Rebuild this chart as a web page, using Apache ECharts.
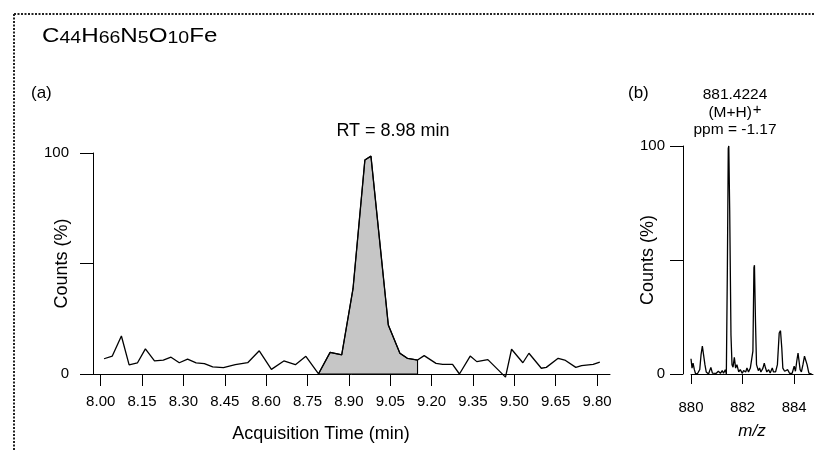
<!DOCTYPE html>
<html>
<head>
<meta charset="utf-8">
<script src="https://cdn.jsdelivr.net/npm/echarts@6/dist/echarts.min.js"></script>
<style>
html,body{margin:0;padding:0;background:#fff;}
#chart{width:814px;height:450px;}
</style>
</head>
<body>
<div id="chart"></div>
<script>
// Chromatogram (a): acquisition time (min) and counts (%)
var chromTime = [8.012, 8.042, 8.075, 8.103, 8.133, 8.162, 8.195, 8.227, 8.255, 8.285,
  8.315, 8.346, 8.376, 8.406, 8.445, 8.488, 8.533, 8.575, 8.619, 8.664,
  8.706, 8.744, 8.790, 8.832, 8.874, 8.915, 8.958, 8.980, 9.043, 9.085,
  9.112, 9.149, 9.173, 9.216, 9.240, 9.276, 9.301, 9.340, 9.364, 9.404,
  9.468, 9.490, 9.531, 9.553, 9.598, 9.616, 9.659, 9.683, 9.723, 9.744,
  9.786, 9.810];
var chromCounts = [6.9, 8.1, 17.2, 4.1, 5.0, 11.4, 5.9, 6.3, 7.6, 5.1,
  6.7, 5.0, 4.7, 3.2, 2.9, 4.2, 5.1, 10.5, 2.1, 5.9,
  4.2, 8.0, 0.1, 9.8, 8.7, 38.6, 96.8, 98.6, 22.2, 9.4,
  7.1, 6.3, 8.3, 4.8, 4.4, 4.4, 0.0, 8.1, 5.6, 6.5,
  -1.4, 11.2, 5.1, 9.4, 2.6, 3.0, 7.1, 6.3, 3.0, 3.8,
  4.4, 5.4];
// integrated peak range (indices into the chromatogram)
var peakStart = 22, peakEnd = 31;
var timeTicks = [8.00, 8.15, 8.30, 8.45, 8.60, 8.75, 8.90, 9.05, 9.20, 9.35, 9.50, 9.65, 9.80];

// Mass spectrum (b): m/z and counts (%)
var specMz = [880.00, 880.04, 880.08, 880.13, 880.18, 880.26, 880.34, 880.39, 880.44, 880.49,
  880.54, 880.59, 880.68, 880.77, 880.83, 880.90, 880.98, 881.06, 881.14, 881.21,
  881.26, 881.33, 881.37, 881.41, 881.445, 881.465, 881.50, 881.55, 881.59, 881.63,
  881.68, 881.73, 881.78, 881.85, 881.91, 881.99, 882.04, 882.12, 882.17, 882.23,
  882.30, 882.35, 882.40, 882.44, 882.46, 882.50, 882.54, 882.61, 882.66, 882.71,
  882.79, 882.84, 882.89, 882.94, 883.01, 883.07, 883.15, 883.20, 883.28, 883.35,
  883.42, 883.47, 883.52, 883.56, 883.63, 883.69, 883.75, 883.82, 883.92, 884.00,
  884.05, 884.10, 884.15, 884.19, 884.23, 884.28, 884.34, 884.40, 884.45, 884.50,
  884.57, 884.68];
var specCounts = [6.7, 2.6, 4.8, 1.9, 0, 0.3, 2.0, 8.5, 12.2, 11.4,
  4.1, 0.9, 0, 2.9, 0.4, 0.9, 0.3, 1.2, 0.3, 1.5,
  0.3, 1.9, 0, 46, 99, 100, 72, 17, 4.1, 3.0,
  7.3, 2.6, 4.1, 0.9, 1.9, 0.3, 1.5, 0.9, 2.6, 0.9,
  2.6, 1.8, 10, 46.6, 47.7, 23.1, 4.1, 1.5, 2.6, 0.9,
  2.6, 4.8, 2.6, 0.9, 1.9, 0.4, 2.6, 0.9, 0.9, 4.1,
  18, 19, 11.4, 2.6, 1.2, 0.9, 1.9, 0.3, 0.3, 3.4,
  1.2, 5.6, 9.2, 10, 1.9, 0.9, 4.1, 7.8, 8.5, 4.1,
  0.4, 0];
var mzTicks = [880, 882, 884];

var chromData = chromTime.map(function (t, i) { return [t, chromCounts[i]]; });
var peakData = [];
for (var i = peakStart; i <= peakEnd; i++) peakData.push([chromTime[i], chromCounts[i]]);
peakData.push([chromTime[peakEnd], 0]);
peakData.push([chromTime[peakStart], 0]);
var specData = specMz.map(function (m, i) { return [m, specCounts[i]]; });

var FONT = '"Liberation Sans", Arial, sans-serif';
var axisLine = { show: true, lineStyle: { color: '#000', width: 1 } };

function yAxisCfg(gridIndex, labelMargin, nameGap) {
  return {
    type: 'value', gridIndex: gridIndex, min: 0, max: 100, interval: 50,
    axisLine: axisLine,
    axisTick: { show: true, length: 13, lineStyle: { color: '#000', width: 1 } },
    axisLabel: {
      margin: labelMargin, fontSize: 15, color: '#000', fontFamily: FONT,
      formatter: function (v) { return v === 50 ? '' : String(v); }
    },
    splitLine: { show: false },
    name: 'Counts (%)', nameLocation: 'middle', nameRotate: 90, nameGap: nameGap,
    nameMoveOverlap: false,
    nameTextStyle: { fontSize: 18, color: '#000', fontFamily: FONT }
  };
}

var option = {
  backgroundColor: '#fff',
  animation: false,
  grid: [
    { left: 93, top: 153, width: 517, height: 221 },
    { left: 683, top: 146, width: 130, height: 228 },
    { left: 691, top: 146, width: 122, height: 228 }
  ],
  xAxis: [
    {
      type: 'value', gridIndex: 0, min: 7.972, max: 9.847, offset: 3,
      axisLine: axisLine,
      axisTick: { show: true, length: 12, customValues: timeTicks, lineStyle: { color: '#000', width: 1 } },
      axisLabel: {
        customValues: timeTicks, margin: 17, fontSize: 15, color: '#000', fontFamily: FONT,
        formatter: function (v) { return v.toFixed(2); }
      },
      splitLine: { show: false },
      name: 'Acquisition Time (min)', nameLocation: 'middle', nameGap: 48, nameMoveOverlap: false,
      nameTextStyle: { fontSize: 18, color: '#000', fontFamily: FONT, padding: [0, 61, 0, 0] }
    },
    { type: 'value', gridIndex: 1, min: 0, max: 1, show: false },
    {
      type: 'value', gridIndex: 2, min: 880, max: 884.73, offset: 8,
      axisLine: axisLine,
      axisTick: { show: true, length: 10, customValues: mzTicks, lineStyle: { color: '#000', width: 1 } },
      axisLabel: {
        customValues: mzTicks, margin: 18, fontSize: 15, color: '#000', fontFamily: FONT
      },
      splitLine: { show: false },
      name: 'm/z', nameLocation: 'middle', nameGap: 41, nameMoveOverlap: false,
      nameTextStyle: { fontSize: 17, color: '#000', fontFamily: FONT, fontStyle: 'italic' }
    }
  ],
  yAxis: [
    yAxisCfg(0, 24, 22),
    yAxisCfg(1, 18, 26),
    { type: 'value', gridIndex: 2, min: 0, max: 100, show: false }
  ],
  series: [
    {
      type: 'line', xAxisIndex: 0, yAxisIndex: 0, data: peakData,
      showSymbol: false, clip: false, z: 2,
      lineStyle: { color: '#000', width: 1.1 },
      areaStyle: { color: '#c6c6c6', opacity: 1, origin: 0 }
    },
    {
      type: 'line', xAxisIndex: 0, yAxisIndex: 0, data: chromData,
      showSymbol: false, clip: false, z: 3,
      lineStyle: { color: '#000', width: 1.3 }
    },
    {
      type: 'line', xAxisIndex: 2, yAxisIndex: 2, data: specData,
      showSymbol: false, clip: false, z: 3,
      lineStyle: { color: '#000', width: 1.3 }
    }
  ],
  graphic: [
    { type: 'line', shape: { x1: 14, y1: 14, x2: 814, y2: 14 }, style: { stroke: '#222', lineWidth: 2, lineDash: [2, 1.5] } },
    { type: 'line', shape: { x1: 14, y1: 14, x2: 14, y2: 450 }, style: { stroke: '#222', lineWidth: 2, lineDash: [2, 1.5] } },
    {
      type: 'text', x: 42, y: 47, scaleX: 1.15,
      style: {
        text: 'C{s|44}H{s|66}N{s|5}O{s|10}Fe',
        font: '21px ' + FONT, fill: '#000', textVerticalAlign: 'bottom',
        rich: { s: { fontSize: 17, fontFamily: FONT, verticalAlign: 'bottom' } }
      }
    },
    { type: 'text', x: 31, y: 93, style: { text: '(a)', font: '17px ' + FONT, fill: '#000', textVerticalAlign: 'middle' } },
    { type: 'text', x: 628, y: 93, style: { text: '(b)', font: '17px ' + FONT, fill: '#000', textVerticalAlign: 'middle' } },
    { type: 'text', x: 393, y: 131, style: { text: 'RT = 8.98 min', font: '18px ' + FONT, fill: '#000', textAlign: 'center', textVerticalAlign: 'middle' } },
    { type: 'text', x: 735, y: 95, style: { text: '881.4224', font: '15.5px ' + FONT, fill: '#000', textAlign: 'center', textVerticalAlign: 'middle' } },
    {
      type: 'text', x: 735, y: 113,
      style: {
        text: '(M+H){p|+}', font: '15.5px ' + FONT, fill: '#000', textAlign: 'center', textVerticalAlign: 'middle',
        rich: { p: { fontSize: 15, fontFamily: FONT, verticalAlign: 'top', padding: [0, 0, 7, 1] } }
      }
    },
    { type: 'text', x: 735, y: 130, style: { text: 'ppm = -1.17', font: '15.5px ' + FONT, fill: '#000', textAlign: 'center', textVerticalAlign: 'middle' } }
  ]
};

var chart = echarts.init(document.getElementById('chart'), null, { renderer: 'canvas' });
chart.setOption(option);
</script>
</body>
</html>
